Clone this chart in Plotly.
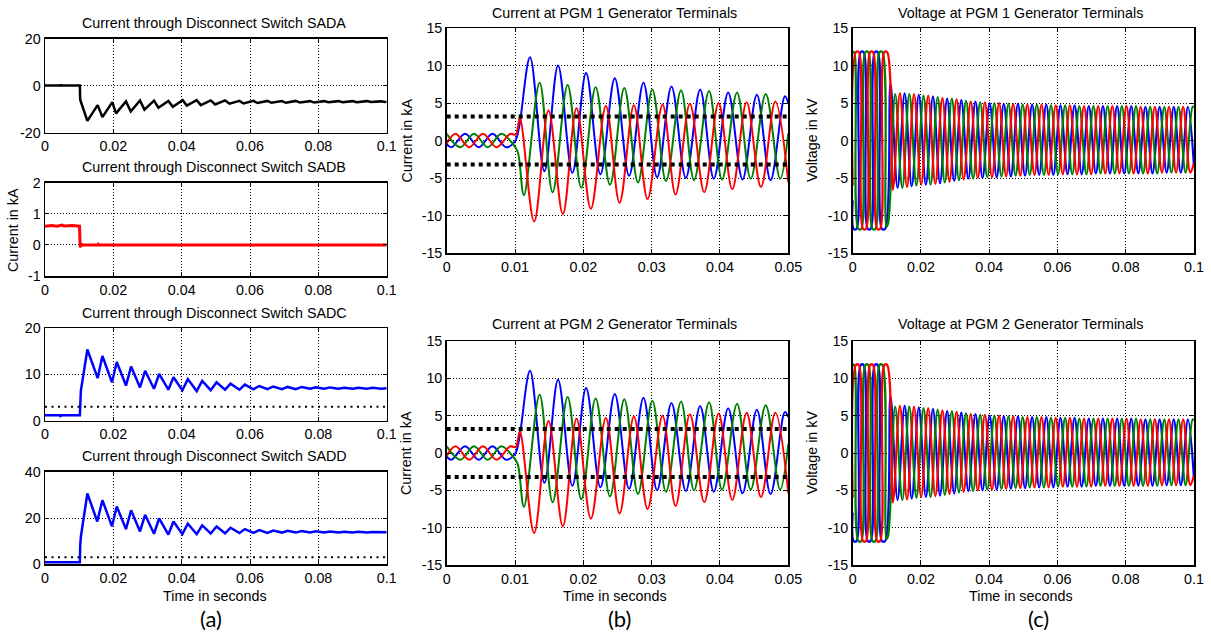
import plotly.graph_objects as go

W, H = 1211, 636
FONT = "Liberation Sans, Arial, sans-serif"
BLUE, GREEN, RED, BLACK = "#0000FF", "#008000", "#FF0000", "#000000"

# ---------------- tick labels ----------------
x_ticks_01 = [0, 0.02, 0.04, 0.06, 0.08, 0.1]
x_labels_01 = ["0", "0.02", "0.04", "0.06", "0.08", "0.1"]
x_ticks_005 = [0, 0.01, 0.02, 0.03, 0.04, 0.05]
x_labels_005 = ["0", "0.01", "0.02", "0.03", "0.04", "0.05"]
y_ticks_sada = [-20, 0, 20]
y_ticks_sadb = [-1, 0, 1, 2]
y_ticks_sadc = [0, 10, 20]
y_ticks_sadd = [0, 20, 40]
y_ticks_pgm = [-15, -10, -5, 0, 5, 10, 15]

# ---------------- (a) disconnect switch currents (t [s], kA) ----------------
sada = [(0, 0), (0.0045, 0), (0.0046, 0.6), (0.0047, 0), (0.0102, 0), (0.0103, -6.0),
        (0.0124, -15.0), (0.0154, -8.3), (0.0168, -13.4), (0.0197, -7.0), (0.0208, -11.8),
        (0.0237, -6.7), (0.0251, -11.0), (0.0278, -6.3), (0.0291, -10.2), (0.0319, -6.4),
        (0.0332, -9.4), (0.0361, -6.5), (0.0374, -9.0), (0.0403, -6.2), (0.0415, -8.5),
        (0.0444, -6.2), (0.0456, -8.3), (0.0485, -6.3), (0.0498, -8.0), (0.0527, -6.3),
        (0.0540, -7.7), (0.0569, -6.5), (0.0581, -7.6), (0.0610, -6.5), (0.0622, -7.4),
        (0.0651, -6.5), (0.0663, -7.3), (0.0693, -6.6), (0.0705, -7.3), (0.0734, -6.5),
        (0.0746, -7.2), (0.0776, -6.6), (0.0788, -7.2), (0.0817, -6.6), (0.0829, -7.1),
        (0.0859, -6.6), (0.0871, -7.1), (0.0900, -6.6), (0.0912, -7.1), (0.0942, -6.6),
        (0.0954, -7.0), (0.0983, -6.7), (0.0995, -7.0), (0.1, -6.8)]

sadb = [(0, 0.60), (0.002, 0.62), (0.0035, 0.60), (0.005, 0.64), (0.0055, 0.61),
        (0.008, 0.62), (0.0101, 0.60), (0.0102, 0.0), (0.0103, -0.08), (0.0106, 0.03),
        (0.011, 0.0), (0.0155, 0.0), (0.0156, 0.02), (0.0158, 0.0), (0.1, 0.0)]

sadc = [(0, 1.2), (0.0044, 1.2), (0.0045, 1.0), (0.005, 1.2), (0.0102, 1.2), (0.0103, 4.5),
        (0.0105, 6.5), (0.0124, 15.4), (0.0154, 9.2), (0.0168, 14.0), (0.0196, 8.3),
        (0.0210, 12.7), (0.0237, 7.6), (0.0252, 11.7), (0.0278, 7.2), (0.0293, 10.8),
        (0.0319, 6.9), (0.0334, 10.1), (0.0361, 6.7), (0.0376, 9.4), (0.0402, 6.6),
        (0.0418, 9.0), (0.0444, 6.4), (0.0460, 8.6), (0.0485, 6.6), (0.0502, 8.3),
        (0.0527, 6.7), (0.0543, 8.0), (0.0569, 6.7), (0.0585, 7.8), (0.0610, 6.8),
        (0.0627, 7.5), (0.0651, 6.8), (0.0668, 7.4), (0.0693, 6.8), (0.0710, 7.3),
        (0.0734, 6.8), (0.0751, 7.3), (0.0776, 6.9), (0.0793, 7.2), (0.0817, 6.9),
        (0.0834, 7.2), (0.0859, 6.9), (0.0876, 7.1), (0.0900, 6.9), (0.0917, 7.1),
        (0.0942, 6.9), (0.0959, 7.1), (0.0983, 6.9), (0.1, 7.0)]

sadd = [(0, 0.9), (0.0102, 0.9), (0.0103, 8.0), (0.0105, 12.0), (0.0124, 30.6),
        (0.0153, 18.5), (0.0168, 27.7), (0.0196, 16.4), (0.0210, 25.0), (0.0237, 15.2),
        (0.0252, 23.3), (0.0278, 14.2), (0.0293, 21.4), (0.0319, 13.2), (0.0334, 19.8),
        (0.0361, 12.8), (0.0376, 18.5), (0.0402, 13.0), (0.0418, 17.5), (0.0444, 13.0),
        (0.0460, 16.8), (0.0485, 13.3), (0.0502, 16.3), (0.0527, 13.4), (0.0543, 15.8),
        (0.0569, 13.5), (0.0585, 15.2), (0.0610, 13.6), (0.0627, 14.8), (0.0651, 13.6),
        (0.0668, 14.6), (0.0693, 13.7), (0.0710, 14.5), (0.0734, 13.7), (0.0751, 14.4),
        (0.0776, 13.7), (0.0793, 14.3), (0.0817, 13.7), (0.0834, 14.2), (0.0859, 13.7),
        (0.0876, 14.1), (0.0900, 13.7), (0.0917, 14.1), (0.0942, 13.7), (0.0959, 14.0),
        (0.0983, 13.7), (0.1, 13.8)]

rated_a = 3.0      # dotted reference level in SADC / SADD panels (kA)

# ---------------- (b) generator terminal currents: extrema (t [s], kA) ----------------
cur_t_blue = [0, 0.0007, 0.0027, 0.0047, 0.0067, 0.0087, 0.0100, 0.0106, 0.0122, 0.0143,
              0.0163, 0.0184, 0.0204, 0.0225, 0.0246, 0.0267, 0.0288, 0.0308, 0.0329,
              0.0350, 0.0371, 0.0391, 0.0412, 0.0433, 0.0454, 0.0474, 0.0495, 0.0500]
pgm1_blue = [-0.5, -0.9, 0.9, -0.9, 0.9, -0.9, -0.1, 1.8, 11.1, -4.1, 10.0, -4.3, 9.0, -4.5,
             8.3, -4.7, 7.7, -4.9, 7.2, -5.0, 6.8, -5.1, 6.4, -5.2, 6.1, -5.3, 5.9, 5.0]
pgm2_blue = [-0.5, -0.9, 0.9, -0.9, 0.9, -0.9, -0.1, 1.8, 11.0, -4.0, 9.8, -4.4, 8.7, -4.6,
             7.9, -4.8, 7.4, -5.0, 6.7, -5.1, 6.3, -5.2, 6.0, -5.4, 5.8, -5.5, 5.5, 4.8]

cur_t_green = [0, 0.0020, 0.0040, 0.0060, 0.0080, 0.0098, 0.0104, 0.0113, 0.0136, 0.0155,
               0.0177, 0.0197, 0.0218, 0.0239, 0.0260, 0.0280, 0.0301, 0.0321, 0.0343,
               0.0362, 0.0384, 0.0403, 0.0425, 0.0445, 0.0467, 0.0488, 0.0500]
pgm1_green = [0.9, -0.9, 0.9, -0.9, 0.9, -0.6, -1.5, -7.3, 7.7, -6.9, 7.4, -6.3, 7.1, -5.9,
              7.0, -5.6, 6.8, -5.4, 6.7, -5.3, 6.6, -5.2, 6.4, -5.1, 6.2, -5.1, 1.0]
pgm2_green = [0.9, -0.9, 0.9, -0.9, 0.9, -0.6, -1.5, -7.2, 7.8, -6.6, 7.5, -6.2, 7.3, -5.8,
              7.2, -5.5, 7.0, -5.2, 6.9, -5.0, 6.8, -4.9, 6.6, -4.9, 6.4, -4.9, 1.2]

cur_t_red = [0, 0.0013, 0.0033, 0.0053, 0.0073, 0.0093, 0.0101, 0.0107, 0.0128, 0.0149,
             0.0170, 0.0190, 0.0211, 0.0233, 0.0253, 0.0274, 0.0294, 0.0316, 0.0335,
             0.0356, 0.0377, 0.0398, 0.0418, 0.0439, 0.0460, 0.0481, 0.0500]
pgm1_red = [-0.4, 0.9, -0.9, 0.9, -0.9, 0.9, 0.8, 3.0, -10.8, 4.0, -9.8, 4.3, -9.1, 4.6,
            -8.3, 4.7, -7.8, 4.8, -7.2, 4.9, -6.9, 5.0, -6.5, 5.1, -6.2, 5.2, -5.6]
pgm2_red = [-0.4, 0.9, -0.9, 0.9, -0.9, 0.9, 0.8, 2.9, -10.7, 4.3, -9.8, 4.6, -8.8, 4.7,
            -8.1, 4.9, -7.5, 5.0, -7.1, 5.2, -6.6, 5.3, -6.3, 5.4, -5.9, 5.4, -5.4]

rated_b = 3.2      # dotted reference levels at +/- this value (kA)

# ---------------- (c) generator terminal voltages: extrema (t [s], kV) ----------------
volt_green = [(0.0, 11.8), (0.0004, 11.8), (0.00168, -11.8), (0.00248, -11.8),
              (0.00375, 11.8), (0.00455, 11.8), (0.00583, -11.8), (0.00663, -11.8),
              (0.0079, 11.8), (0.0087, 11.8), (0.0099, -11.5), (0.0104, -11.0),
              (0.01245, 6.2), (0.01453, -6.3), (0.0166, 6.2), (0.01868, -6.0),
              (0.02075, 6.0), (0.02283, -5.9), (0.0249, 5.8), (0.02698, -5.6),
              (0.02905, 5.6), (0.03113, -5.3), (0.0332, 5.3), (0.03528, -5.1),
              (0.03735, 5.1), (0.03943, -4.9), (0.0415, 5.0), (0.04358, -4.8),
              (0.04565, 4.9), (0.04773, -4.7), (0.0498, 4.8), (0.05188, -4.6),
              (0.05395, 4.8), (0.05603, -4.6), (0.0581, 4.7), (0.06018, -4.5),
              (0.06225, 4.7), (0.06433, -4.5), (0.0664, 4.6), (0.06848, -4.5),
              (0.07055, 4.6), (0.07263, -4.4), (0.0747, 4.6), (0.07678, -4.4),
              (0.07885, 4.6), (0.08093, -4.4), (0.083, 4.6), (0.08508, -4.4),
              (0.08715, 4.5), (0.08923, -4.4), (0.0913, 4.5), (0.09338, -4.3),
              (0.09545, 4.5), (0.09753, -4.3), (0.0996, 4.5), (0.1, 4.4)]

volt_red = [(0.0, -6.0), (0.00098, 11.8), (0.00178, 11.8), (0.00306, -11.8), (0.00386, -11.8),
            (0.00513, 11.8), (0.00593, 11.8), (0.00721, -11.8), (0.00801, -11.8),
            (0.00928, 11.8), (0.01008, 11.8), (0.01176, -6.6), (0.01383, 6.3),
            (0.01591, -6.2), (0.01798, 6.2), (0.02006, -5.9), (0.02213, 6.0),
            (0.02421, -5.8), (0.02628, 5.7), (0.02836, -5.5), (0.03043, 5.5),
            (0.03251, -5.2), (0.03458, 5.2), (0.03666, -5.0), (0.03873, 5.1),
            (0.04081, -4.9), (0.04288, 5.0), (0.04496, -4.8), (0.04703, 4.9),
            (0.04911, -4.7), (0.05118, 4.8), (0.05326, -4.6), (0.05533, 4.8),
            (0.05741, -4.6), (0.05948, 4.7), (0.06156, -4.5), (0.06363, 4.7),
            (0.06571, -4.5), (0.06778, 4.6), (0.06986, -4.5), (0.07193, 4.6),
            (0.07401, -4.4), (0.07608, 4.6), (0.07816, -4.4), (0.08023, 4.6),
            (0.08231, -4.4), (0.08438, 4.5), (0.08646, -4.4), (0.08853, 4.5),
            (0.09061, -4.3), (0.09268, 4.5), (0.09476, -4.3), (0.09683, 4.5),
            (0.09891, -4.3), (0.1, -3.0)]

volt_blue = [(0.0, -8.0), (0.0003, -11.8), (0.0011, -11.8), (0.00237, 11.8), (0.00317, 11.8),
             (0.00444, -11.8), (0.00524, -11.8), (0.00652, 11.8), (0.00732, 11.8),
             (0.00859, -11.8), (0.00949, -11.8), (0.01107, 7.6), (0.01314, -6.3),
             (0.01522, 6.3), (0.01729, -6.1), (0.01937, 6.1), (0.02144, -5.9),
             (0.02352, 5.9), (0.02559, -5.7), (0.02767, 5.6), (0.02974, -5.4),
             (0.03182, 5.4), (0.03389, -5.1), (0.03597, 5.2), (0.03804, -5.0),
             (0.04012, 5.0), (0.04219, -4.9), (0.04427, 4.9), (0.04634, -4.8),
             (0.04842, 4.9), (0.05049, -4.7), (0.05257, 4.8), (0.05464, -4.6),
             (0.05672, 4.8), (0.05879, -4.6), (0.06087, 4.7), (0.06294, -4.5),
             (0.06502, 4.7), (0.06709, -4.5), (0.06917, 4.6), (0.07124, -4.4),
             (0.07332, 4.6), (0.07539, -4.4), (0.07747, 4.6), (0.07954, -4.4),
             (0.08162, 4.6), (0.08369, -4.4), (0.08577, 4.5), (0.08784, -4.4),
             (0.08992, 4.5), (0.09199, -4.3), (0.09407, 4.5), (0.09614, -4.3),
             (0.09822, 4.5), (0.1, -3.5)]

# ---------------- layout of panels (pixel boxes) ----------------
panels = [
    # n, x0, x1, y0(top), y1(bottom), xrange, yrange, xticks, xlabels, yticks
    (1, 45, 386.7, 38.5, 132.7, [0, 0.1], [-20, 20], x_ticks_01, x_labels_01, y_ticks_sada),
    (2, 45, 386.7, 182.7, 276.0, [0, 0.1], [-1, 2], x_ticks_01, x_labels_01, y_ticks_sadb),
    (3, 45, 386.7, 328.2, 420.7, [0, 0.1], [0, 20], x_ticks_01, x_labels_01, y_ticks_sadc),
    (4, 45, 386.7, 471.7, 564.3, [0, 0.1], [0, 40], x_ticks_01, x_labels_01, y_ticks_sadd),
    (5, 446.7, 788.3, 28.0, 253.0, [0, 0.05], [-15, 15], x_ticks_005, x_labels_005, y_ticks_pgm),
    (6, 446.7, 788.3, 341.0, 565.0, [0, 0.05], [-15, 15], x_ticks_005, x_labels_005, y_ticks_pgm),
    (7, 852.7, 1194.0, 28.0, 253.0, [0, 0.1], [-15, 15], x_ticks_01, x_labels_01, y_ticks_pgm),
    (8, 852.7, 1194.0, 341.0, 565.0, [0, 0.1], [-15, 15], x_ticks_01, x_labels_01, y_ticks_pgm),
]

TICK_SIZE = 14.3
TEXT_SIZE = 14.3

def ax_names(n):
    s = "" if n == 1 else str(n)
    return "xaxis" + s, "yaxis" + s, "x" + s, "y" + s

def common_axis(**kw):
    d = dict(showline=True, linecolor="black", linewidth=1.5, mirror="ticks",
             ticks="inside", ticklen=4, tickwidth=1, tickcolor="black",
             showgrid=True, gridcolor="black", gridwidth=1, griddash="1px,2px",
             zeroline=False, fixedrange=True, automargin=False,
             tickfont=dict(family=FONT, size=TICK_SIZE, color="black"))
    d.update(kw)
    return d

fig = go.Figure()
layout_axes = {}
for n, x0, x1, y0, y1, xr, yr, xt, xl, yt in panels:
    xa, ya, xref, yref = ax_names(n)
    layout_axes[xa] = common_axis(domain=[x0 / W, x1 / W], range=xr, anchor=yref,
                                  tickmode="array", tickvals=xt, ticktext=xl)
    layout_axes[ya] = common_axis(domain=[1 - y1 / H, 1 - y0 / H], range=yr, anchor=xref,
                                  tickmode="array", tickvals=yt,
                                  ticktext=[str(v) for v in yt])

def add_line(n, xs, ys, color, width, shape="linear", dash=None):
    _, _, xref, yref = ax_names(n)
    line = dict(color=color, width=width, shape=shape)
    if shape == "spline":
        line["smoothing"] = 1.0
    if dash:
        line["dash"] = dash
    fig.add_trace(go.Scatter(x=list(xs), y=list(ys), mode="lines", line=line,
                             xaxis=xref, yaxis=yref, showlegend=False, hoverinfo="skip"))

def unzip(pairs):
    return [p[0] for p in pairs], [p[1] for p in pairs]

# (a)
add_line(1, *unzip(sada), BLACK, 2.5)
add_line(2, *unzip(sadb), RED, 3)
add_line(3, *unzip(sadc), BLUE, 2.5)
add_line(4, *unzip(sadd), BLUE, 2.5)
for n in (3, 4):
    add_line(n, [0, 0.1], [rated_a, rated_a], BLACK, 2, dash="2px,4.5px")

# (b)
for n, vb, vg, vr in ((5, pgm1_blue, pgm1_green, pgm1_red), (6, pgm2_blue, pgm2_green, pgm2_red)):
    add_line(n, cur_t_blue, vb, BLUE, 2, "spline")
    add_line(n, cur_t_green, vg, GREEN, 2, "spline")
    add_line(n, cur_t_red, vr, RED, 2, "spline")
    add_line(n, [0, 0.05], [rated_b, rated_b], BLACK, 4, dash="dot")
    add_line(n, [0, 0.05], [-rated_b, -rated_b], BLACK, 4, dash="dot")

# (c)
for n in (7, 8):
    add_line(n, *unzip(volt_blue), BLUE, 2.2, "spline")
    add_line(n, *unzip(volt_green), GREEN, 2.2, "spline")
    add_line(n, *unzip(volt_red), RED, 2.2, "spline")

# ---------------- text ----------------
LETTER_FONT = "Lato, Open Sans, sans-serif"
texts = [
    ("Current through Disconnect Switch SADA", 214, 23.3, TEXT_SIZE, 0, FONT),
    ("Current through Disconnect Switch SADB", 214, 167.3, TEXT_SIZE, 0, FONT),
    ("Current through Disconnect Switch SADC", 214, 312.7, TEXT_SIZE, 0, FONT),
    ("Current through Disconnect Switch SADD", 214, 456.0, TEXT_SIZE, 0, FONT),
    ("Current at PGM 1 Generator Terminals", 615, 12.7, TEXT_SIZE, 0, FONT),
    ("Current at PGM 2 Generator Terminals", 615, 324.0, TEXT_SIZE, 0, FONT),
    ("Voltage at PGM 1 Generator Terminals", 1020, 12.7, TEXT_SIZE, 0, FONT),
    ("Voltage at PGM 2 Generator Terminals", 1020, 324.0, TEXT_SIZE, 0, FONT),
    ("Current in kA", 13, 230, TEXT_SIZE, -90, FONT),
    ("Current in kA", 406, 140.5, TEXT_SIZE, -90, FONT),
    ("Current in kA", 406, 453, TEXT_SIZE, -90, FONT),
    ("Voltage in kV", 811.5, 140.5, TEXT_SIZE, -90, FONT),
    ("Voltage in kV", 811.5, 453, TEXT_SIZE, -90, FONT),
    ("Time in seconds", 215, 596, TEXT_SIZE, 0, FONT),
    ("Time in seconds", 615, 596, TEXT_SIZE, 0, FONT),
    ("Time in seconds", 1021, 596, TEXT_SIZE, 0, FONT),
    ("(a)", 211, 618, 22, 0, LETTER_FONT),
    ("(b)", 619.5, 618, 22, 0, LETTER_FONT),
    ("(c)", 1038, 618, 22, 0, LETTER_FONT),
]
annotations = [dict(text=t, x=x / W, y=1 - y / H, xref="paper", yref="paper",
                    xanchor="center", yanchor="middle", showarrow=False, textangle=a,
                    font=dict(family=f, size=s, color="black"))
               for t, x, y, s, a, f in texts]

fig.update_layout(width=W, height=H, autosize=False,
                  margin=dict(l=0, r=0, t=0, b=0, pad=0),
                  paper_bgcolor="white", plot_bgcolor="white",
                  showlegend=False, annotations=annotations, **layout_axes)

fig.write_html("out.html",
               config={"displayModeBar": False, "staticPlot": True},
               post_script="document.body.style.margin='0';"
                           "document.body.style.overflow='hidden';")
